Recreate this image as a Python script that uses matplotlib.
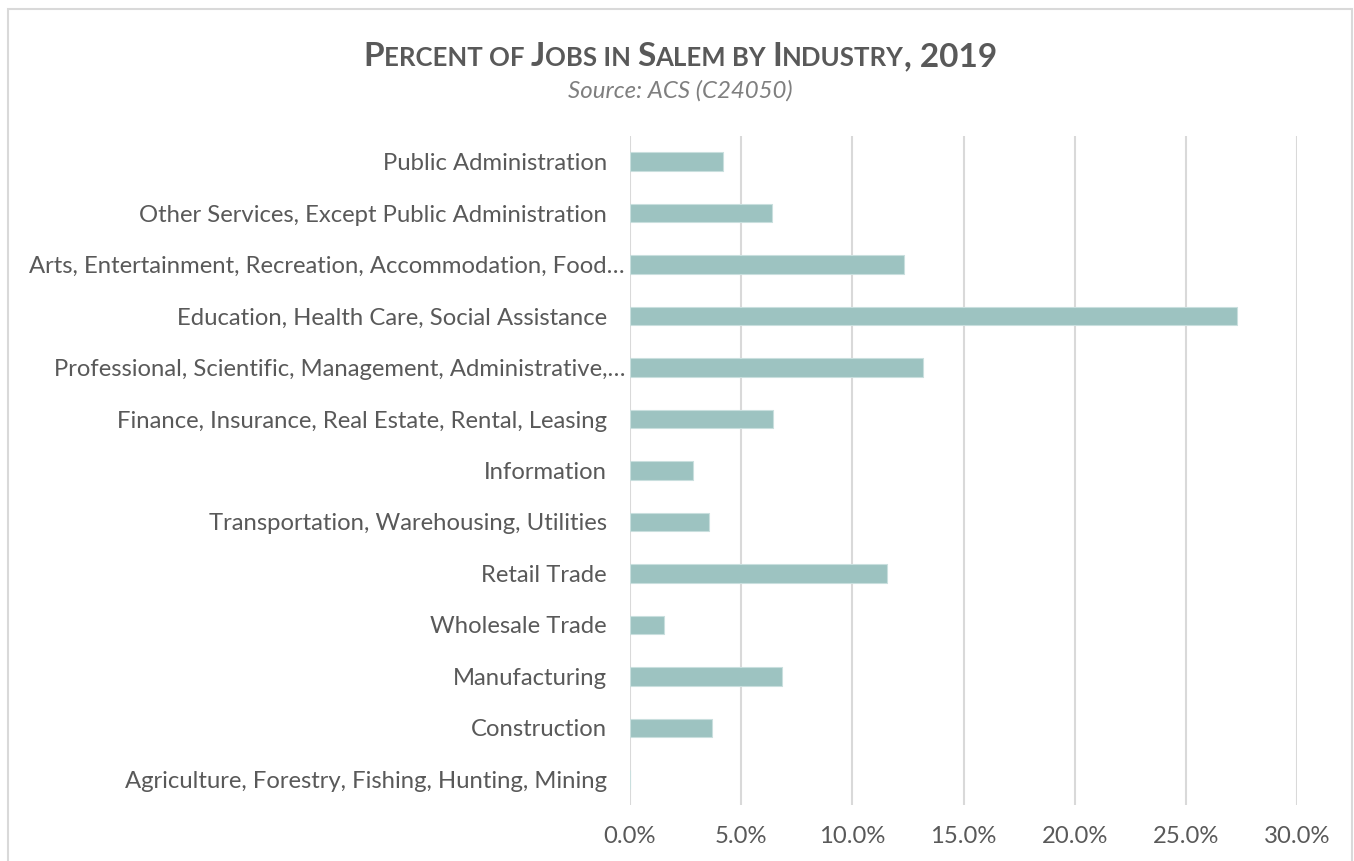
import matplotlib
matplotlib.use('Agg')
import matplotlib.pyplot as plt
import matplotlib.transforms as mtransforms
from matplotlib.patches import Rectangle

plt.rcParams['font.family'] = ['Lato', 'DejaVu Sans']

industries = [
    'Agriculture, Forestry, Fishing, Hunting, Mining',
    'Construction',
    'Manufacturing',
    'Wholesale Trade',
    'Retail Trade',
    'Transportation, Warehousing, Utilities',
    'Information',
    'Finance, Insurance, Real Estate, Rental, Leasing',
    'Professional, Scientific, Management, Administrative,…',
    'Education, Health Care, Social Assistance',
    'Arts, Entertainment, Recreation, Accommodation, Food…',
    'Other Services, Except Public Administration',
    'Public Administration',
]
pct_jobs = [0.0, 3.69, 6.82, 1.54, 11.57, 3.57, 2.82, 6.43, 13.2, 27.3, 12.34, 6.39, 4.2]
x_ticks = [0, 5, 10, 15, 20, 25, 30]

W, H = 1354, 861
fig = plt.figure(figsize=(W / 100, H / 100), dpi=100)
ax = fig.add_axes([630 / W, 1 - 805 / H, (1297 - 630) / W, (805 - 136) / H])

txt = '#595959'
ax.barh(range(len(industries)), pct_jobs, height=0.36, color='#9dc3c1',
        edgecolor='#c9dfde', linewidth=0.8, zorder=3)
ax.set_ylim(-0.5, len(industries) - 0.5)
ax.set_xlim(0, 30)
ax.set_xticks(x_ticks)
ax.set_xticklabels(['{:.1f}%'.format(v) for v in x_ticks])
ax.set_yticks(range(len(industries)))
ax.set_yticklabels(industries)
ax.grid(axis='x', color='#d9d9d9', linewidth=1.5, zorder=0)
ax.tick_params(axis='both', length=0, labelsize=17.2, colors=txt)
ax.tick_params(axis='y', pad=16.5)
ax.tick_params(axis='x', pad=15)
for s in ax.spines.values():
    s.set_visible(False)

# truncated labels run on past the others, like in the original
shift = mtransforms.ScaledTranslation(18 / 100, 0, fig.dpi_scale_trans)
for lab in ax.get_yticklabels():
    if lab.get_text().endswith('…'):
        lab.set_transform(lab.get_transform() + shift)

# outer chart frame
fig.patches.append(Rectangle((8 / W, -0.01), 1344 / W, 1 - 9 / H + 0.01,
                             transform=fig.transFigure, fill=False,
                             edgecolor='#d9d9d9', linewidth=1.5))

# small caps title built from pieces
pieces = [('P', 'b'), ('ERCENT OF', 's'), (' ', 'sp'), ('J', 'b'), ('OBS IN', 's'), (' ', 'sp'),
          ('S', 'b'), ('ALEM BY', 's'), (' ', 'sp'), ('I', 'b'), ('NDUSTRY', 's'), (', 2019', 'b')]
sizes = {'b': 24, 's': 18.5}
renderer = fig.canvas.get_renderer()


def width_px(s, size):
    t = fig.text(0, 0, s, fontsize=size, fontweight='bold')
    w = t.get_window_extent(renderer).width
    t.remove()
    return w


space_w = width_px('x x', sizes['s']) - width_px('xx', sizes['s'])
widths = []
for s, k in pieces:
    widths.append(space_w if k == 'sp' else width_px(s, sizes[k]))
x = 680 - sum(widths) / 2
base_y = 1 - 66 / H
for (s, k), w in zip(pieces, widths):
    if k != 'sp':
        fig.text(x / W, base_y, s, fontsize=sizes[k], fontweight='bold',
                 color=txt, ha='left', va='baseline')
    x += w

fig.text(680 / W, 1 - 91 / H, 'Source: ACS (C24050)', fontsize=17.3, style='italic',
         color='#7f7f7f', ha='center', va='center')

fig.savefig('out.png', dpi=100)
